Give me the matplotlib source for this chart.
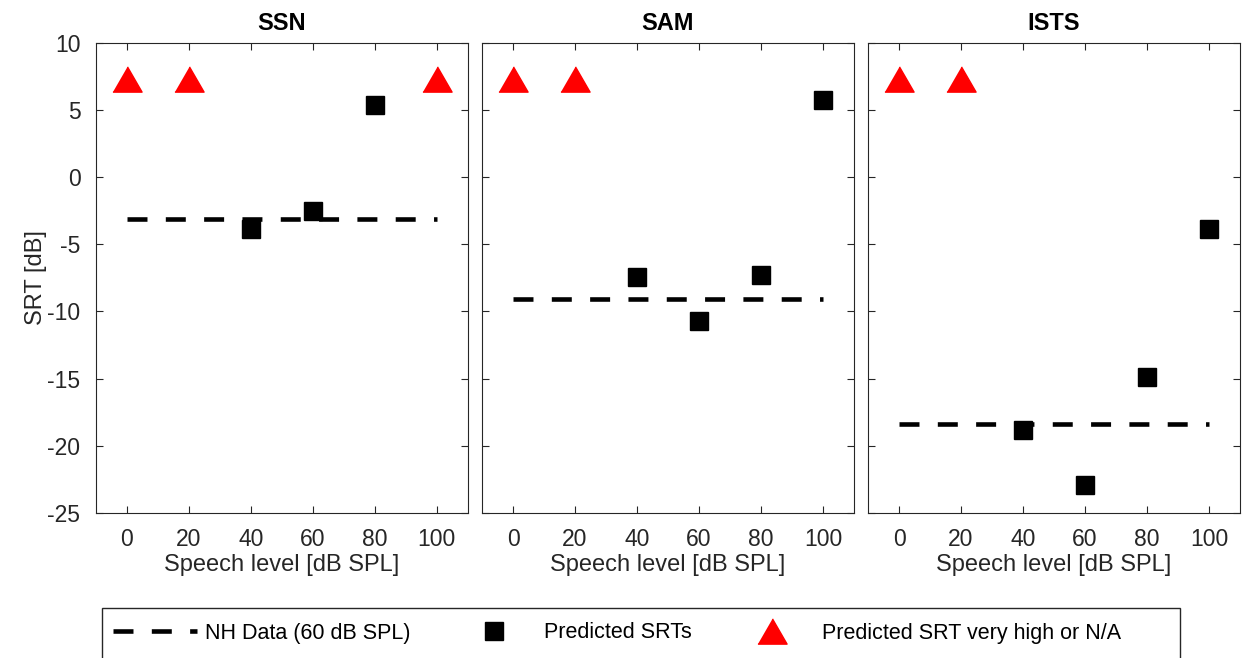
import matplotlib
matplotlib.use('Agg')
import matplotlib.pyplot as plt
from matplotlib.lines import Line2D
from matplotlib.patches import Rectangle

plt.rcParams['font.family'] = ['Liberation Sans', 'DejaVu Sans']
plt.rcParams['axes.unicode_minus'] = False

#data
titles = ['SSN', 'SAM', 'ISTS']
ssn_x = [40, 60, 80]
ssn_srt = [-3.9, -2.5, 5.35]
sam_x = [40, 60, 80, 100]
sam_srt = [-7.45, -10.7, -7.3, 5.7]
ists_x = [40, 60, 80, 100]
ists_srt = [-18.8, -22.9, -14.85, -3.85]
nh_data = [-3.15, -9.05, -18.4]
na_x = [[0, 20, 100], [0, 20], [0, 20]]
na_y = 7.3

pred_x = [ssn_x, sam_x, ists_x]
pred_y = [ssn_srt, sam_srt, ists_srt]

gray = '#262626'
dash = (0, (4.36, 4.0))
tri = [(-1, -0.866), (1, -0.866), (0, 0.866)]

fig = plt.figure(figsize=(12.5, 6.58), dpi=100)
lefts = [0.0766, 0.3856, 0.6944]
axes = []
for i in range(3):
    ax = fig.add_axes([lefts[i], 0.2204, 0.2976, 0.7147])
    axes.append(ax)
    ax.plot([0, 100], [nh_data[i], nh_data[i]], color='black', lw=3.3,
            linestyle=dash, dash_capstyle='butt')
    ax.plot(pred_x[i], pred_y[i], linestyle='none', marker='s', ms=13.5,
            color='black')
    ax.plot(na_x[i], [na_y]*len(na_x[i]), linestyle='none', marker=tri,
            ms=21, color='red')
    ax.set_xlim(-10, 110)
    ax.set_ylim(-25, 10)
    ax.set_xticks([0, 20, 40, 60, 80, 100])
    ax.set_yticks([-25, -20, -15, -10, -5, 0, 5, 10])
    ax.tick_params(direction='in', top=True, right=True, length=5,
                   labelsize=16.5, color=gray, labelcolor=gray, pad=11)
    for s in ax.spines.values():
        s.set_color(gray)
        s.set_linewidth(0.8)
    ax.set_title(titles[i], fontsize=17, fontweight='bold', pad=9)
    ax.set_xlabel('Speech level [dB SPL]', fontsize=17, color=gray,
                  labelpad=2)
    if i > 0:
        ax.set_yticklabels([])

axes[0].set_ylabel('SRT [dB]', fontsize=17, color=gray, labelpad=0)

# legend box across the bottom
fig.patches.append(Rectangle((102/1250, -0.02), (1180-102)/1250, 0.096,
                             transform=fig.transFigure, fill=False,
                             edgecolor=gray, lw=1.0))

handles = [
    Line2D([], [], color='black', lw=3.3, linestyle=dash, dash_capstyle='butt'),
    Line2D([], [], color='black', marker='s', ms=13.5, linestyle='none'),
    Line2D([], [], color='red', marker=tri, ms=21, linestyle='none'),
]
labels = ['NH Data (60 dB SPL)', 'Predicted SRTs', 'Predicted SRT very high or N/A']
starts = [113, 452, 730]
for h, lab, x0 in zip(handles, labels, starts):
    fig.legend([h], [lab], loc='center left',
               bbox_to_anchor=(x0/1250, 1 - 633/658),
               frameon=False, fontsize=15.5, handlelength=3.9,
               handletextpad=0.37, borderpad=0, borderaxespad=0)

fig.savefig('out.png', dpi=100)
